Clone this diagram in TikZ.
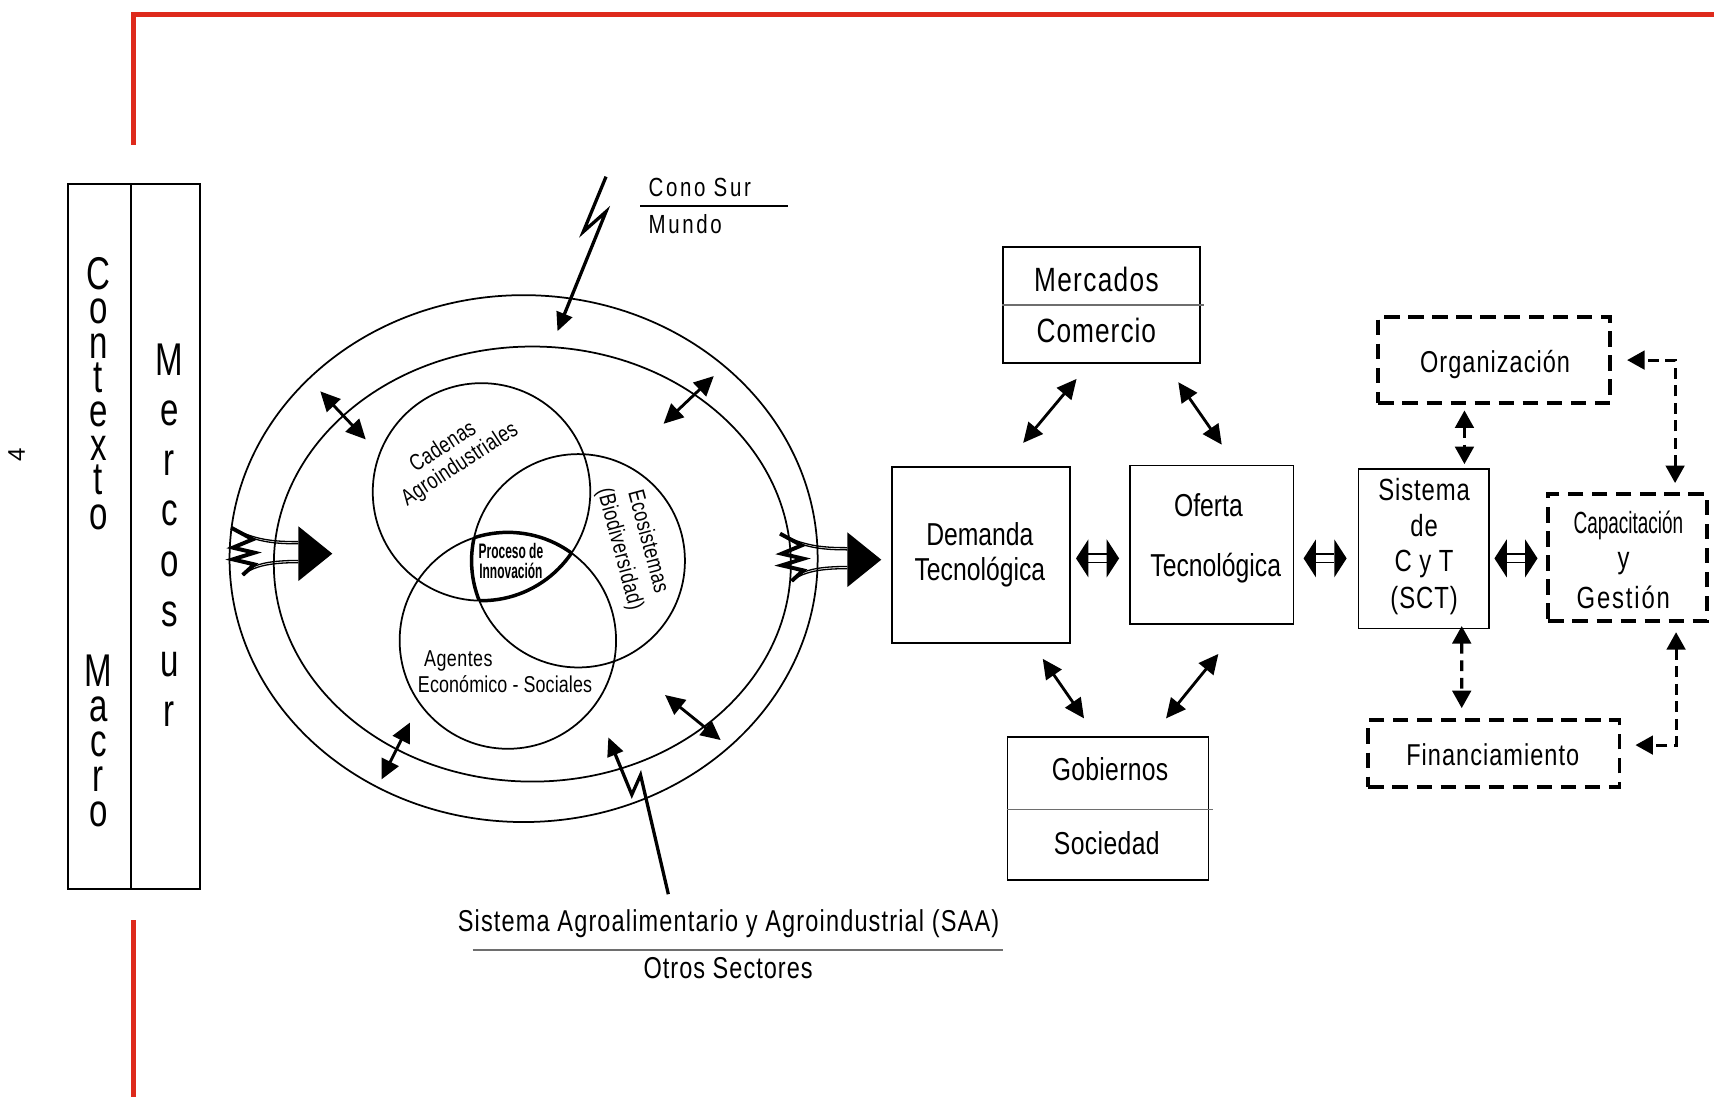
\documentclass[tikz,border=0pt]{standalone}
\usepackage{fontspec}
\setmainfont{Liberation Sans}
\newfontfamily\nfa[FakeStretch=0.78]{Liberation Sans}
\newfontfamily\nfc[FakeStretch=0.62]{Liberation Sans}
\newfontfamily\nfl[FakeStretch=0.72]{Liberation Sans}
\newfontfamily\nfb[FakeStretch=0.57]{Liberation Sans}
\newcommand\lsp[1]{\addfontfeature{LetterSpace=#1}}
\usetikzlibrary{arrows.meta,calc}
\definecolor{redline}{RGB}{222,42,28}
\definecolor{divgray}{RGB}{110,110,110}
\tikzset{
  dbl/.pic={
    \fill (-19.7,0) -- (-8.4,-17.4) -- (-8.4,17.4) -- cycle;
    \fill (19.7,0) -- (8.4,-17.4) -- (8.4,17.4) -- cycle;
    \draw[line width=0.6pt] (-8.4,-4) -- (8.4,-4) (-8.4,4) -- (8.4,4);
  },
  burst/.pic={
    \fill (0,-25) -- (31,0) -- (0,25) -- cycle;
    \draw[line width=0.6pt] (-61.6,-23.8) .. controls (-40,-13) and (-25,-11) .. (0,-11);
    \draw[line width=0.6pt] (-58,-21) .. controls (-40,-11.5) and (-25,-9) .. (0,-9);
    \draw[line width=0.6pt] (0,8.2) .. controls (-25,8.2) and (-40,11) .. (-51,19.5);
    \draw[line width=0.6pt] (0,6.2) .. controls (-25,6.2) and (-40,9) .. (-48,16.5);
    \draw[line width=1.8pt, line join=miter] (-61.6,-23.8) -- (-41.8,-13.1) -- (-60,-5.5) -- (-40.3,-0.9) -- (-60,5.2) -- (-40.3,9.8) -- (-51,19.5);
  }
}
\begin{document}
\begin{tikzpicture}[x=0.5pt,y=-0.5pt,
  box/.style={draw, line width=0.85pt, rectangle, inner sep=0pt},
  dbox/.style={draw, line width=1.8pt, dash pattern=on 7pt off 4pt, rectangle, inner sep=0pt},
  lbl/.style={anchor=base, inner sep=0pt, font=\nfa\fontsize{14.5}{17}\selectfont},
  small/.style={inner sep=0pt, font=\nfa\fontsize{10.5}{12}\selectfont},
  conn/.style={line width=1.3pt, arrows={Triangle[length=9pt,width=8.5pt]-Triangle[length=9pt,width=8.5pt]}},
  dconn/.style={line width=1.4pt, dash pattern=on 5pt off 3pt, arrows={Triangle[length=8pt,width=8.5pt]-Triangle[length=8pt,width=8.5pt]}},
  bolt/.style={line width=1.5pt, line join=miter, arrows={-Triangle[length=8.5pt,width=7.5pt]}},
  ring/.style={line width=0.8pt}
]
\useasboundingbox (0,0) rectangle (1568,1003.5);

% red frame
\draw[redline, line width=2pt] (122,132.5) -- (122,13.3) -- (1572,13.3);
\draw[redline, line width=2pt] (122,842) -- (122,1006);

% page number
\node[rotate=90, inner sep=0pt, font=\fontsize{11}{12}\selectfont] (pnum) at (15.3,416) {4};

% left column box
\node[box, minimum width=29pt, minimum height=322.5pt] (ctx) at (91,490.5) {};
\node[box, minimum width=31.5pt, minimum height=322.5pt] (mer) at (151.5,490.5) {};
\node[anchor=north, inner sep=0pt, align=center, font=\nfl\fontsize{21}{15.65}\selectfont] (ctxw) at (90,235.2) {C\\o\\n\\t\\e\\x\\t\\o};
\node[anchor=north, inner sep=0pt, align=center, font=\nfl\fontsize{21}{16}\selectfont] (macw) at (90,599.1) {M\\a\\c\\r\\o};
\node[anchor=north, inner sep=0pt, align=center, font=\nfl\fontsize{21}{22.95}\selectfont] (merw) at (155,314.1) {M\\e\\r\\c\\o\\s\\u\\r};

% rings
\draw[ring] (479,511) ellipse [x radius=134.5pt, y radius=120.5pt];
\draw[ring] (487,516) ellipse [x radius=118.25pt, y radius=99.5pt];

% Venn circles
\coordinate (cA) at (440.5,450);
\coordinate (cE) at (529,513);
\coordinate (cS) at (464.6,586);
\draw[ring] (cA) circle [radius=49.75pt];
\draw[ring] (cE) circle [radius=48.8pt];
\draw[ring] (cS) circle [radius=49.5pt];
\begin{scope}
  \clip (cE) circle [radius=48.8pt];
  \clip (cS) circle [radius=49.5pt];
  \draw[line width=1.6pt] (cA) circle [radius=49.75pt];
\end{scope}
\begin{scope}
  \clip (cA) circle [radius=49.75pt];
  \clip (cS) circle [radius=49.5pt];
  \draw[line width=1.6pt] (cE) circle [radius=48.8pt];
\end{scope}
\begin{scope}
  \clip (cA) circle [radius=49.75pt];
  \clip (cE) circle [radius=48.8pt];
  \draw[line width=1.6pt] (cS) circle [radius=49.5pt];
\end{scope}

\node[small, rotate=33, align=center, font=\nfa\fontsize{10.5}{10.8}\selectfont\lsp{1.5}] (cad) at (415,416.1) {Cadenas\hspace*{4.2pt}\\Agroindustriales};
\node[small, rotate=-75, align=center, font=\nfa\fontsize{10.5}{13.3}\selectfont\lsp{1.7}] (eco) at (579.4,498.8) {Ecosistemas\\(Biodiversidad)};
\node[small, anchor=base, font=\nfa\fontsize{10.5}{12}\selectfont\lsp{2}] (age1) at (419.3,609.3) {Agentes};
\node[small, anchor=base, font=\nfa\fontsize{10.5}{12}\selectfont\lsp{0.5}] (age2) at (462,633.7) {Económico - Sociales};
\node[inner sep=0pt, align=center, font=\nfb\bfseries\fontsize{9.6}{9.1}\selectfont] (pin) at (467.4,512.9) {Proceso de\\Innovación};

% ring arrows
\coordinate (ra1) at (293,358);   \coordinate (rb1) at (334.6,402);
\coordinate (ra2) at (653,344);   \coordinate (rb2) at (607,387.7);
\coordinate (ra3) at (375,661);   \coordinate (rb3) at (349,713);
\coordinate (ra4) at (608.4,635.8); \coordinate (rb4) at (659.3,677);
\foreach \k in {1,2,3,4} \draw[conn] (ra\k) -- (rb\k);

% burst arrows
\pic (bl) at (273,506.5) {burst};
\pic (br) at (775.2,512) {burst};

% lightning arrows
\coordinate (bt0) at (554.4,161.6);
\coordinate (bt3) at (510,303);
\draw[bolt] (bt0) -- (533.6,212) -- (554.4,193.6) -- (bt3);
\coordinate (bb0) at (611.4,818);
\coordinate (bb3) at (556.5,674.5);
\draw[bolt] (bb0) -- (586,709) -- (578,727) -- (bb3);

% Cono Sur / Mundo
\node[anchor=base west, inner sep=0pt, font=\nfa\fontsize{12}{14}\selectfont\lsp{10}] (cono) at (593,180) {Cono Sur};
\node[anchor=base west, inner sep=0pt, font=\nfa\fontsize{12}{14}\selectfont\lsp{10}] (mundo) at (593,213.5) {Mundo};
\draw[line width=0.6pt] (585.5,188.5) -- (721,188.5);

% SAA / Otros
\node[anchor=base, inner sep=0pt, font=\nfa\fontsize{13.8}{16}\selectfont\lsp{3.8}] (saa) at (666.5,851.7) {Sistema Agroalimentario y Agroindustrial (SAA)};
\draw[divgray, line width=0.8pt] (432.3,869) -- (917.8,869);
\node[anchor=base, inner sep=0pt, font=\nfa\fontsize{13.8}{16}\selectfont\lsp{3.4}] (otros) at (666.1,895) {Otros Sectores};

% central boxes
\node[box, minimum width=90pt, minimum height=52.75pt] (mkt) at (1007.9,279) {};
\draw[divgray, line width=0.6pt] (mkt.west) -- ($(mkt.east)+(3,0)$);
\node[lbl, font=\nfa\fontsize{15.4}{17}\selectfont\lsp{4}] (mkt1) at (1003,266.5) {Mercados};
\node[lbl, font=\nfa\fontsize{15.4}{17}\selectfont\lsp{3}] (mkt2) at (1003,313.6) {Comercio};

\node[box, minimum width=81.65pt, minimum height=80.6pt] (dem) at (897.4,508) {};
\node[inner sep=0pt, align=center, font=\nfa\fontsize{14.5}{16.15}\selectfont] (demt) at (896.4,507.3) {Demanda\\Tecnológica};

\node[box, minimum width=74.75pt, minimum height=72.45pt] (of) at (1108.6,498.3) {};
\node[lbl] (of1) at (1105.5,472.9) {Oferta};
\node[lbl] (of2) at (1112.2,527.1) {Tecnológica};

\node[box, minimum width=91.95pt, minimum height=65.55pt] (gob) at (1013.6,739.5) {};
\draw[divgray, line width=0.6pt] ($(gob.west)+(0,0.8)$) -- ($(gob.east)+(3,0.8)$);
\node[lbl, font=\nfa\fontsize{14.5}{17}\selectfont\lsp{1}] (gob1) at (1015.5,714.1) {Gobiernos};
\node[lbl, font=\nfa\fontsize{14.5}{17}\selectfont\lsp{1.2}] (gob2) at (1012.5,782) {Sociedad};

\node[box, minimum width=59.9pt, minimum height=72.95pt] (sct) at (1302.6,502) {};
\node[lbl, font=\nfa\fontsize{14}{17}\selectfont\lsp{3}] (sct1) at (1302.8,458) {Sistema};
\node[lbl, font=\nfa\fontsize{14}{17}\selectfont\lsp{3}] (sct2) at (1302.8,491) {de};
\node[lbl, font=\nfa\fontsize{14}{17}\selectfont\lsp{3}] (sct3) at (1302.8,523) {C y T};
\node[lbl, font=\nfa\fontsize{14}{17}\selectfont\lsp{3}] (sct4) at (1302.8,556.6) {(SCT)};

% dashed boxes
\node[dbox, minimum width=106pt, minimum height=39.65pt] (org) at (1367,329.4) {};
\node[lbl, font=\nfa\fontsize{13.8}{16}\selectfont\lsp{3.4}] (org1) at (1367.7,341) {Organización};
\node[dbox, minimum width=72.5pt, minimum height=58pt] (cap) at (1489,510) {};
\node[lbl, font=\nfc\fontsize{14}{17}\selectfont] (cap1) at (1489.7,488) {Capacitación};
\node[lbl, font=\nfa\fontsize{14}{17}\selectfont] (cap2) at (1485.2,520) {y};
\node[lbl, font=\nfa\fontsize{14}{17}\selectfont\lsp{6}] (cap3) at (1485,556.6) {Gestión};
\node[dbox, minimum width=114.85pt, minimum height=30.5pt] (fin) at (1366.7,689.3) {};
\node[lbl, font=\nfa\fontsize{13.8}{16}\selectfont\lsp{3.4}] (fin1) at (1365.6,700) {Financiamiento};

% solid connectors
\draw[conn] ($(mkt.south)+(-23,14)$) -- ($(dem.north)+(38.6,-21.4)$);
\draw[conn] ($(mkt.south)+(70,17)$) -- ($(of.north)+(9.1,-18.2)$);
\draw[conn] ($(dem.south)+(56.5,13.2)$) -- ($(gob.north)+(-21.9,-15.9)$);
\draw[conn] ($(of.south)+(6,26.6)$) -- ($(gob.north)+(53.1,-15.9)$);

% horizontal double arrows
\pic (d1) at ($(dem.east)!0.5!(of.west)+(-2.4,7.65)$) {dbl};
\pic (d2) at ($(of.east)!0.5!(sct.west)+(-0.8,10.65)$) {dbl};
\pic (d3) at ($(sct.east)!0.5!(cap.west)+(-2.2,4.8)$) {dbl};

% dashed connectors
\draw[dconn] ($(org.south)+(-27.3,4.6)$) -- ($(sct.north)+(37.1,-3.6)$);
\draw[dconn] ($(sct.south)+(34.6,-3.1)$) -- ($(fin.north)+(-29.5,-9.2)$);
\draw[dconn] ($(cap.north)+(43.4,-8.3)$) |- ($(org.east)+(13.7,0)$);
\draw[dconn] ($(cap.south)+(44.3,8.5)$) |- ($(fin.east)+(12.8,-7.7)$);
\end{tikzpicture}
\end{document}
